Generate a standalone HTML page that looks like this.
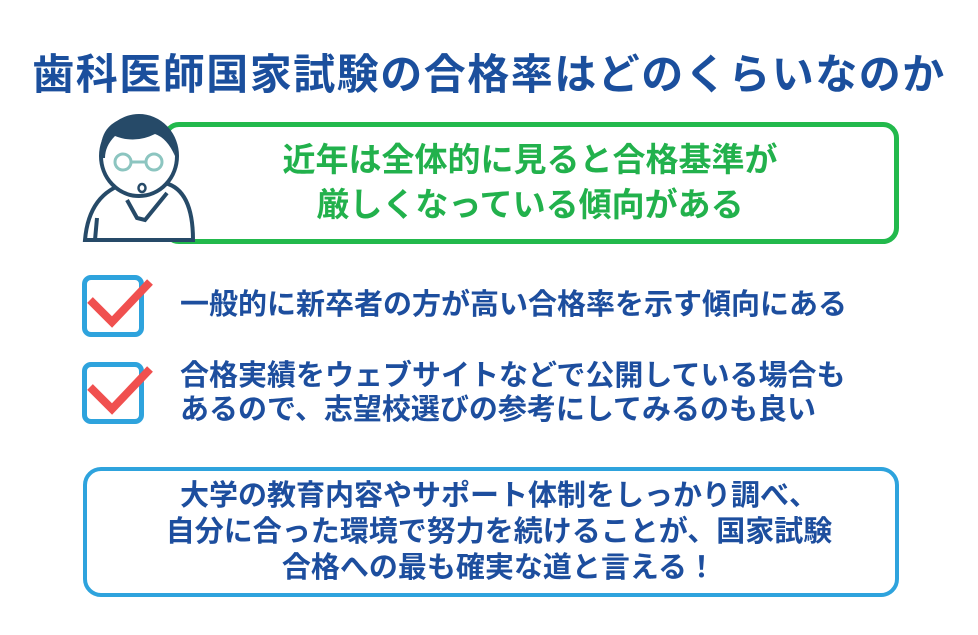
<!DOCTYPE html>
<html><head><meta charset="utf-8"><style>
body{margin:0;width:978px;height:635px;background:#fff;position:relative;overflow:hidden;font-family:"Liberation Sans","Noto Sans CJK JP",sans-serif;font-weight:bold}
.a{position:absolute;white-space:nowrap}
.t{left:0;width:978px;text-align:center;top:50px;font-size:42px;line-height:50px;color:#1b4f9d;letter-spacing:1.5px}
.g{position:absolute;left:163px;top:122px;width:726px;height:112px;border:5px solid #22b94c;border-radius:16px}
.gt{left:165px;width:730px;text-align:center;font-size:33px;color:#22b14c;line-height:45px;top:137px}
.cb{position:absolute;width:52px;height:52px;border:5px solid #2ea3dd;border-radius:9px;left:82px}
.b{left:180px;font-size:29px;color:#1d4e9e;line-height:34px}
.bx{position:absolute;left:83px;top:467px;width:808px;height:122px;border:4px solid #2ea3dd;border-radius:18px}
.bt{left:91px;width:816px;text-align:center;font-size:29px;color:#1d4e9e;line-height:36px;top:478px}
</style></head><body>
<div class="a t">歯科医師国家試験の合格率はどのくらいなのか</div>
<div class="g"></div>
<svg class="a" style="left:75px;top:108px" width="130" height="140" viewBox="0 0 130 140">
<path d="M10 132 Q14 85 52 75 L90 75 Q118 82 118 132 Z" fill="#fff" stroke="#264a68" stroke-width="4"/>
<ellipse cx="64" cy="48" rx="38" ry="40" fill="#fff" stroke="#264a68" stroke-width="4"/>
<path d="M26 50 Q22 12 60 8 Q100 8 100 48 Q92 30 80 26 Q60 36 40 28 Q30 38 30 50 Z" fill="#264a68"/>
<circle cx="48" cy="54" r="8" fill="none" stroke="#8cc5c0" stroke-width="3"/>
<circle cx="79" cy="54" r="8" fill="none" stroke="#8cc5c0" stroke-width="3"/>
<line x1="56" y1="54" x2="71" y2="54" stroke="#8cc5c0" stroke-width="3"/>
<ellipse cx="67" cy="80" rx="3.5" ry="4" fill="none" stroke="#264a68" stroke-width="2.5"/>
<path d="M52 92 L62 110 L70 112 L92 85" fill="none" stroke="#264a68" stroke-width="4"/>
<line x1="22" y1="110" x2="20" y2="132" stroke="#264a68" stroke-width="4"/>
</svg>
<div class="a gt">近年は全体的に見ると合格基準が<br>厳しくなっている傾向がある</div>
<div class="cb" style="top:275px"></div>
<div class="cb" style="top:362px"></div>
<svg class="a" style="left:85px;top:275px" width="70" height="150">
<polyline points="5,25 27,47 65,7" fill="none" stroke="#f0504f" stroke-width="8"/>
<polyline points="5,112 27,134 65,94" fill="none" stroke="#f0504f" stroke-width="8"/>
</svg>
<div class="a b" style="top:288px">一般的に新卒者の方が高い合格率を示す傾向にある</div>
<div class="a b" style="top:359px">合格実績をウェブサイトなどで公開している場合も<br>あるので、志望校選びの参考にしてみるのも良い</div>
<div class="bx"></div>
<div class="a bt">大学の教育内容やサポート体制をしっかり調べ、<br>自分に合った環境で努力を続けることが、国家試験<br>合格への最も確実な道と言える！</div>
</body></html>
